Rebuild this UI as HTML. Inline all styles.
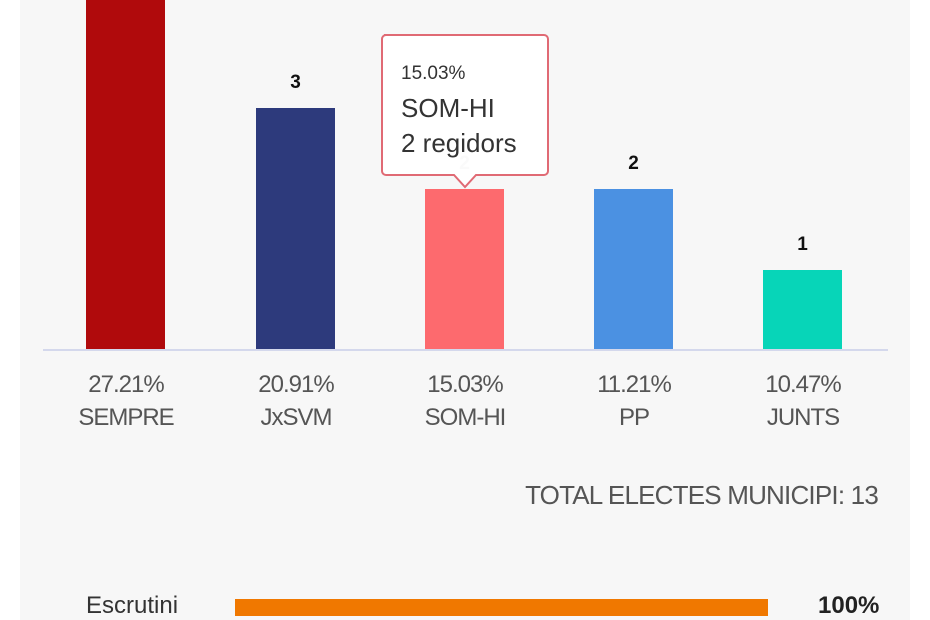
<!DOCTYPE html>
<html><head><meta charset="utf-8"><style>
body{margin:0;width:930px;height:620px;background:#fff;overflow:hidden;font-family:"Liberation Sans",sans-serif;position:relative}
.p{position:absolute;left:20px;top:0;width:890px;height:620px;background:#f7f7f7}
.a{position:absolute}
.b{position:absolute;width:79px}
.n{position:absolute;width:79px;text-align:center;font-weight:bold;font-size:19px;color:#111}
.l{position:absolute;width:160px;text-align:center;font-size:24px;color:#555;line-height:33px;letter-spacing:-1px}
</style></head><body>
<div class="p"></div>
<div class="b" style="left:86px;top:0;height:350px;background:#b00a0c"></div>
<div class="b" style="left:256px;top:108px;height:242px;background:#2d3a7c"></div>
<div class="b" style="left:425px;top:189px;height:161px;background:#fd6a6e"></div>
<div class="b" style="left:594px;top:189px;height:161px;background:#4b91e2"></div>
<div class="b" style="left:763px;top:270px;height:80px;background:#07d5b8"></div>
<div class="a" style="left:43px;top:349px;width:845px;height:2px;background:#d4d8ec"></div>
<div class="n" style="left:256px;top:72px">3</div>
<div class="n" style="left:425px;top:153px;color:#ccc">2</div>
<div class="n" style="left:594px;top:153px">2</div>
<div class="n" style="left:763px;top:234px">1</div>
<div class="l" style="left:46px;top:368px">27.21%<br>SEMPRE</div>
<div class="l" style="left:216px;top:368px">20.91%<br>JxSVM</div>
<div class="l" style="left:385px;top:368px">15.03%<br>SOM-HI</div>
<div class="l" style="left:554px;top:368px">11.21%<br>PP</div>
<div class="l" style="left:723px;top:368px">10.47%<br>JUNTS</div>
<svg class="a" style="left:378px;top:32px" width="176" height="160">
<path d="M6 3 H166 a4 4 0 0 1 4 4 V139 a4 4 0 0 1 -4 4 H98 L87 155 L76 143 H8 a4 4 0 0 1 -4 -4 V7 a4 4 0 0 1 4 -4Z" fill="rgba(255,255,255,0.9)" stroke="#e06a74" stroke-width="2"/>
</svg>
<div class="a" style="left:401px;top:63px;font-size:19px;color:#333">15.03%</div>
<div class="a" style="left:401px;top:91px;font-size:26px;color:#333;line-height:35px">SOM-HI<br>2 regidors</div>
<div class="a" style="right:52px;top:480px;font-size:26px;color:#555;letter-spacing:-0.8px">TOTAL ELECTES MUNICIPI: 13</div>
<div class="a" style="left:86px;top:592px;font-size:24px;color:#333">Escrutini</div>
<div class="a" style="left:235px;top:599px;width:533px;height:17px;background:#f07800"></div>
<div class="a" style="left:818px;top:592px;font-size:24px;font-weight:bold;color:#222">100%</div>
</body></html>
